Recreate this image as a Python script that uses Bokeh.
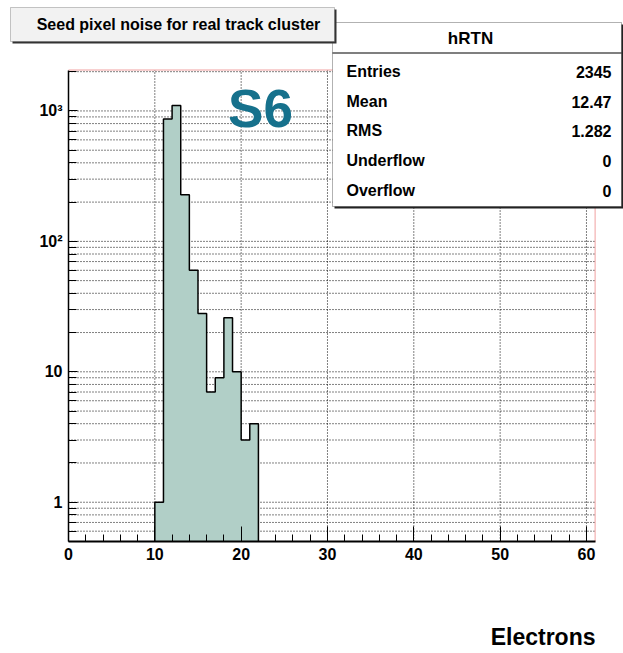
import math
from bokeh.plotting import figure
from bokeh.models import FixedTicker, Label, BoxAnnotation, Range1d
from bokeh.embed import file_html
from bokeh.resources import INLINE

# ---- data ----
bin_low = [10, 11, 12, 13, 14, 15, 16, 17, 18, 19, 20, 21]
bin_high = [11, 12, 13, 14, 15, 16, 17, 18, 19, 20, 21, 22]
counts = [1, 867, 1102, 228, 60, 28, 7, 9, 26, 10, 3, 4]

x_bounds = (0, 61)
y_bounds = (0.5, 2060)
x_major = [0, 10, 20, 30, 40, 50, 60]
x_minor = [2, 4, 6, 8, 12, 14, 16, 18, 22, 24, 26, 28, 32, 34, 36, 38,
           42, 44, 46, 48, 52, 54, 56, 58]
y_major = [1, 10, 100, 1000]
y_minor = [0.6, 0.7, 0.8, 0.9, 2, 3, 4, 5, 6, 7, 8, 9, 20, 30, 40, 50, 60, 70, 80, 90,
           200, 300, 400, 500, 600, 700, 800, 900, 2000]
y_labels = {1: "1", 10: "10", 100: "10²", 1000: "10³"}

title_text = "Seed pixel noise for real track cluster"
hist_name = "hRTN"
stat_names = ["Entries", "Mean", "RMS", "Underflow", "Overflow"]
stat_values = ["2345", "12.47", "1.282", "0", "0"]
tag_text = "S6"
x_title = "Electrons"

# ---- layout (pixels) ----
W, H = 623, 653
FL, FR, FT, FB = 68, 594.6, 69.5, 541   # pixel box of the histogram frame
FONT = "Liberation Sans"

kx = (FR - FL) / (x_bounds[1] - x_bounds[0])
x_start = x_bounds[0] - FL / kx
x_end = x_bounds[1] + (W - FR) / kx
ly0, ly1 = math.log10(y_bounds[0]), math.log10(y_bounds[1])
ky = (FB - FT) / (ly1 - ly0)
y_start = 10 ** (ly0 - (H - FB) / ky)
y_end = 10 ** (ly1 + FT / ky)

p = figure(frame_width=W, frame_height=H, min_border=0,
           x_range=Range1d(x_start, x_end), y_range=Range1d(y_start, y_end),
           y_axis_type="log", output_backend="svg", toolbar_location=None)
p.background_fill_color = "white"
p.border_fill_color = "white"
p.outline_line_color = None
p.xgrid.visible = False
p.ygrid.visible = False

# axes drawn at the frame edges
p.xaxis.fixed_location = y_bounds[0]
p.xaxis.bounds = x_bounds
p.yaxis.fixed_location = x_bounds[0]
p.yaxis.bounds = y_bounds
p.xaxis.ticker = FixedTicker(ticks=x_major, minor_ticks=x_minor)
p.yaxis.ticker = FixedTicker(ticks=y_major, minor_ticks=y_minor)
p.yaxis.major_label_overrides = y_labels
for ax in (p.xaxis, p.yaxis):
    ax.major_label_text_font = FONT
    ax.major_label_text_font_style = "bold"
    ax.major_label_text_font_size = "16px"
    ax.major_label_text_color = "black"
    ax.axis_line_color = "black"
    ax.major_tick_line_color = "black"
    ax.minor_tick_line_color = "black"
    ax.major_tick_out = 0
    ax.minor_tick_out = 0
p.xaxis.axis_line_width = 2
p.yaxis.axis_line_width = 1.5
p.xaxis.major_tick_in = 15
p.xaxis.minor_tick_in = 7
p.yaxis.major_tick_in = 9
p.yaxis.minor_tick_in = 8
p.xaxis.major_label_standoff = 6
p.yaxis.major_label_standoff = 6

# dotted grid inside the frame
gy = y_major + y_minor
p.segment(x0=[x_bounds[0]] * len(gy), x1=[x_bounds[1]] * len(gy), y0=gy, y1=gy,
          line_color="black", line_dash="1 2", line_width=1)
gx = x_major[1:]
p.segment(x0=gx, x1=gx, y0=[y_bounds[0]] * len(gx), y1=[y_bounds[1]] * len(gx),
          line_color="black", line_dash="1 2", line_width=1)

# histogram (filled step outline)
base = y_bounds[0]
sx_pts = [bin_low[0]]
sy_pts = [base]
for lo, hi, c in zip(bin_low, bin_high, counts):
    sx_pts += [lo, hi]
    sy_pts += [c, c]
sx_pts.append(bin_high[-1])
sy_pts.append(base)
p.patch(sx_pts, sy_pts, fill_color="#b1cfc7", line_color=None)
p.line(sx_pts, sy_pts, line_color="black", line_width=1.5)

# frame top / right edges
p.line([x_bounds[0], x_bounds[1], x_bounds[1]], [y_bounds[1], y_bounds[1], y_bounds[0]],
       line_color="#f0a0a0", line_width=1)


# ---- overlays in pixel coordinates ----
def sx(px):
    return px


def sy(py):
    return H - py


def box(l, t, r, b, fill, line=None, lw=1):
    p.add_layout(BoxAnnotation(left=sx(l), right=sx(r), top=sy(t), bottom=sy(b),
                               left_units="screen", right_units="screen",
                               top_units="screen", bottom_units="screen",
                               fill_color=fill, fill_alpha=1,
                               line_color=line, line_width=lw))


def label(px, py, txt, size, align="left", color="black"):
    p.add_layout(Label(x=sx(px), y=sy(py), x_units="screen", y_units="screen",
                       text=txt, text_font=FONT, text_font_style="bold",
                       text_font_size=size, text_color=color,
                       text_align=align, text_baseline="middle"))


# stats box
box(334, 24, 623, 208, "#222222")
box(332, 22, 621, 206, "white", "black", 1)
box(332, 52, 621, 53, "black")
label(470, 38, hist_name, "17px", "center")
row_y = [71, 101, 130, 160, 190]
for yy, nm, vv in zip(row_y, stat_names, stat_values):
    label(346, yy, nm, "16px", "left")
    label(611, yy, vv, "16px", "right")

# title box
box(12, 9, 336, 43, "#333333")
box(10, 7, 334, 41, "#f2f2f2", "#444444", 1)
label(178, 24, title_text, "16px", "center")

# S6 tag
label(260, 108, tag_text, "53px", "center", "#16718c")

# x axis title
label(595, 636, x_title, "23px", "right")

open("out.html", "w").write(file_html(p, INLINE))
